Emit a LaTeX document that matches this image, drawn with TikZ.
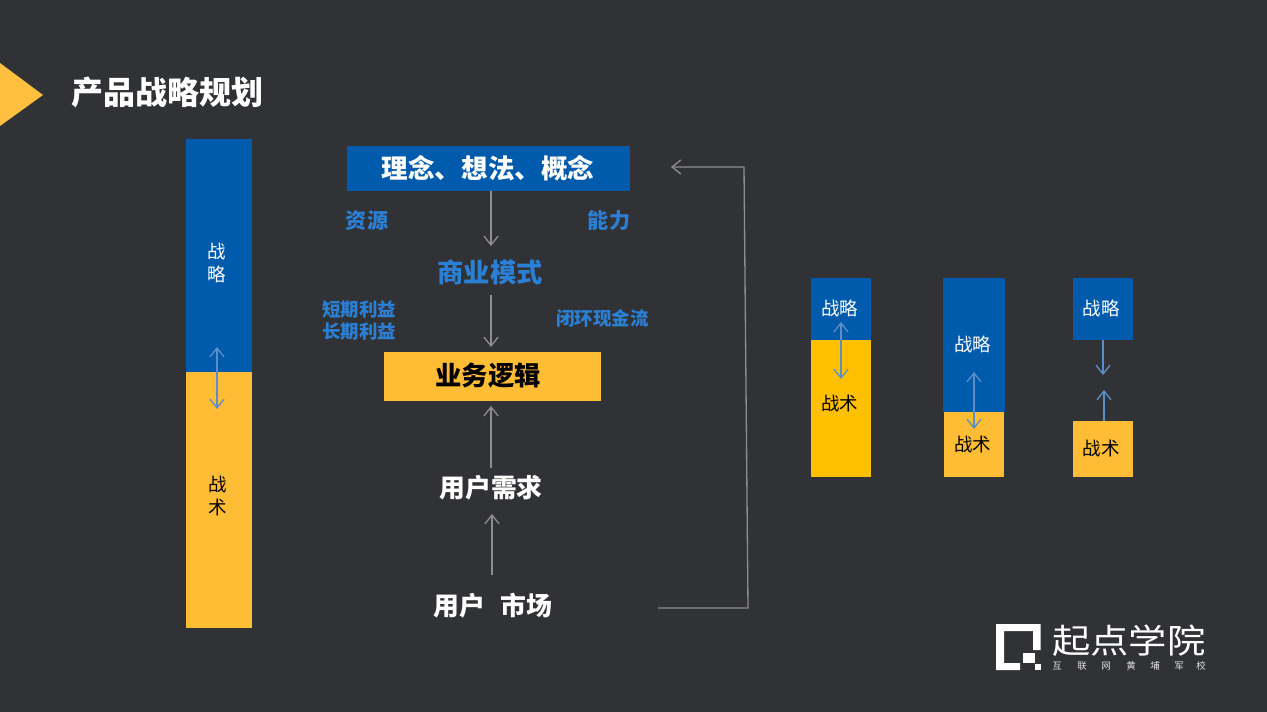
\documentclass[tikz,border=0pt]{standalone}
\usepackage{xcolor}
\usepackage{fontspec}
\setmainfont{Noto Sans CJK SC}
\usepackage{tikz}
\usetikzlibrary{arrows.meta}

\definecolor{slidebg}{HTML}{313236}
\definecolor{planblue}{HTML}{005BAC}
\definecolor{planamber}{HTML}{FFBC35}
\definecolor{plangold}{HTML}{FFC000}
\definecolor{wordblue}{HTML}{2B7FD4}
\definecolor{flowgray}{HTML}{8E8E90}
\definecolor{linkblue}{HTML}{5B8FC7}

\tikzset{
    flowarrow/.style={draw=flowgray, line width=0.75pt, -{Straight Barb[length=5pt,width=8pt]}},
    linkarrow/.style={draw=linkblue, line width=0.75pt, {Straight Barb[length=5pt,width=8pt]}-{Straight Barb[length=5pt,width=8pt]}},
    onearrow/.style={draw=linkblue, line width=0.75pt, -{Straight Barb[length=5pt,width=8pt]}},
    block/.style={inner sep=0pt, outer sep=0pt},
    bigword/.style={font=\bfseries\fontsize{15}{18}\selectfont, inner sep=0pt},
    sideword/.style={font=\bfseries\fontsize{10.5}{12.6}\selectfont, text=wordblue, inner sep=0pt, align=center},
    barword/.style={font=\fontsize{10.5}{13}\selectfont, inner sep=0pt, align=center},
}

\begin{document}
\begin{tikzpicture}[x=0.02cm, y=-0.02cm]

    % -------------------------
    % Background and title
    % -------------------------
    \fill[slidebg] (0,0) rectangle (1267,712);
    \useasboundingbox (0,0) rectangle (1267,712);
    \fill[planamber!95!white] (0,63) -- (43,95) -- (0,126) -- cycle;
    \node[anchor=west, inner sep=0pt, text=white, font=\bfseries\fontsize{18.2}{22}\selectfont] (title) at (71.5,92) {产品战略规划};

    % -------------------------
    % Left bar
    % -------------------------
    \node[block, fill=planblue, minimum width=66*0.02cm, minimum height=233*0.02cm] (leftblue) at (219,255.5) {};
    \node[block, fill=planamber, minimum width=66*0.02cm, minimum height=256*0.02cm] (leftamber) at (219,500) {};
    \node[barword, text=white] (leftplan) at (217,263) {战\\略};
    \node[barword, text=black] (lefttactic) at (218,496) {战\\术};
    \coordinate (lefttop) at (217,347);
    \coordinate (leftbot) at (217,409);
    \draw[linkarrow] (lefttop) -- (leftbot);

    % -------------------------
    % Middle flow
    % -------------------------
    \node[block, fill=planblue, minimum width=283*0.02cm, minimum height=45*0.02cm] (concept) at (488.5,168.5) {};
    \node[bigword, text=white, font=\bfseries\fontsize{15.1}{18}\selectfont] (conceptword) at (488,168.5) {理念、想法、概念};
    \node[bigword, text=wordblue] (model) at (490,272) {商业模式};
    \node[block, fill=planamber, minimum width=217*0.02cm, minimum height=49*0.02cm] (logic) at (492.5,376.5) {};
    \node[bigword, text=black] (logicword) at (488,375.5) {业务逻辑};
    \node[bigword, text=white, font=\bfseries\fontsize{14.7}{18}\selectfont] (need) at (491,488) {用户需求};
    \node[bigword, text=white, font=\bfseries\fontsize{14.7}{18}\selectfont] (market) at (493,606) {用户\hspace{0.6em}市场};

    % side words
    \node[sideword, font=\bfseries\fontsize{12}{14}\selectfont] (resource) at (367,221) {资源};
    \node[sideword, font=\bfseries\fontsize{12}{14}\selectfont] (ability) at (609,221) {能力};
    \node[sideword] (profit) at (359,320.5) {短期利益\\长期利益};
    \node[sideword] (cash) at (602.5,318) {闭环现金流};

    % arrows between the words
    \coordinate (arrowa) at (491,191);
    \coordinate (arrowb) at (491,246);
    \coordinate (arrowc) at (491,295);
    \coordinate (arrowd) at (491,347);
    \coordinate (arrowe) at (491,468);
    \coordinate (arrowf) at (491,406);
    \coordinate (arrowg) at (492,575);
    \coordinate (arrowh) at (492,514);
    \draw[flowarrow] (arrowa) -- (arrowb);
    \draw[flowarrow] (arrowc) -- (arrowd);
    \draw[flowarrow] (arrowe) -- (arrowf);
    \draw[flowarrow] (arrowg) -- (arrowh);

    % feedback line
    \coordinate (backa) at (658,608);
    \coordinate (backb) at (748,608);
    \coordinate (backc) at (744,167);
    \coordinate (backd) at (671,167);
    \draw[flowarrow] (backa) -- (backb) -- (backc) -- (backd);

    % -------------------------
    % Three small cases
    % -------------------------
    % case 1
    \node[block, fill=planblue, minimum width=60*0.02cm, minimum height=62*0.02cm] (oneblue) at (841,309) {};
    \node[block, fill=plangold, minimum width=60*0.02cm, minimum height=137*0.02cm] (onegold) at (841,408.5) {};
    \node[barword, text=white] (oneplan) at (839.5,308.5) {战略};
    \node[barword, text=black] (onetactic) at (839.5,403.5) {战术};
    \coordinate (onetop) at (841,322);
    \coordinate (onebot) at (841,379);
    \draw[linkarrow] (onetop) -- (onebot);

    % case 2
    \node[block, fill=planblue, minimum width=62*0.02cm, minimum height=134*0.02cm] (twoblue) at (974,345) {};
    \node[block, fill=planamber, minimum width=60*0.02cm, minimum height=65*0.02cm] (twoamber) at (974,444.5) {};
    \node[barword, text=white] (twoplan) at (972.5,344.5) {战略};
    \node[barword, text=black] (twotactic) at (972.5,444.5) {战术};
    \coordinate (twotop) at (974,372);
    \coordinate (twobot) at (974,429);
    \draw[linkarrow] (twotop) -- (twobot);

    % case 3
    \node[block, fill=planblue, minimum width=60*0.02cm, minimum height=62*0.02cm] (threeblue) at (1103,309) {};
    \node[block, fill=planamber, minimum width=60*0.02cm, minimum height=56*0.02cm] (threeamber) at (1103,449) {};
    \node[barword, text=white] (threeplan) at (1101,308.5) {战略};
    \node[barword, text=black] (threetactic) at (1101,448.5) {战术};
    \coordinate (threedown) at (1103,375);
    \coordinate (threeup) at (1104,390);
    \draw[onearrow] (threeblue.south -| threedown) -- (threedown);
    \draw[onearrow] (threeamber.north -| threeup) -- (threeup);

    % -------------------------
    % Logo
    % -------------------------
    \fill[white] (996,624) -- (1040.5,624) -- (1040.5,650) -- (1033,650) -- (1033,631) -- (1004,631)
        -- (1004,663) -- (1020,663) -- (1020,670) -- (996,670) -- cycle;
    \fill[white] (1023,653) rectangle (1035,663);
    \fill[white] (1035,664) rectangle (1040.5,670);
    \node[anchor=west, inner sep=0pt, text=white, yscale=0.88, font=\fontsize{21.8}{24}\selectfont] (logoname) at (1052,641) {起点学院};
    \foreach \i/\c/\x in {a/互/1057,b/联/1082,c/网/1106,d/黄/1131,e/埔/1155,f/军/1179,g/校/1201}
        \node[inner sep=0pt, text=white!85!slidebg, font=\fontsize{5.4}{6}\selectfont] (logo\i) at (\x,666) {\c};

\end{tikzpicture}
\end{document}
